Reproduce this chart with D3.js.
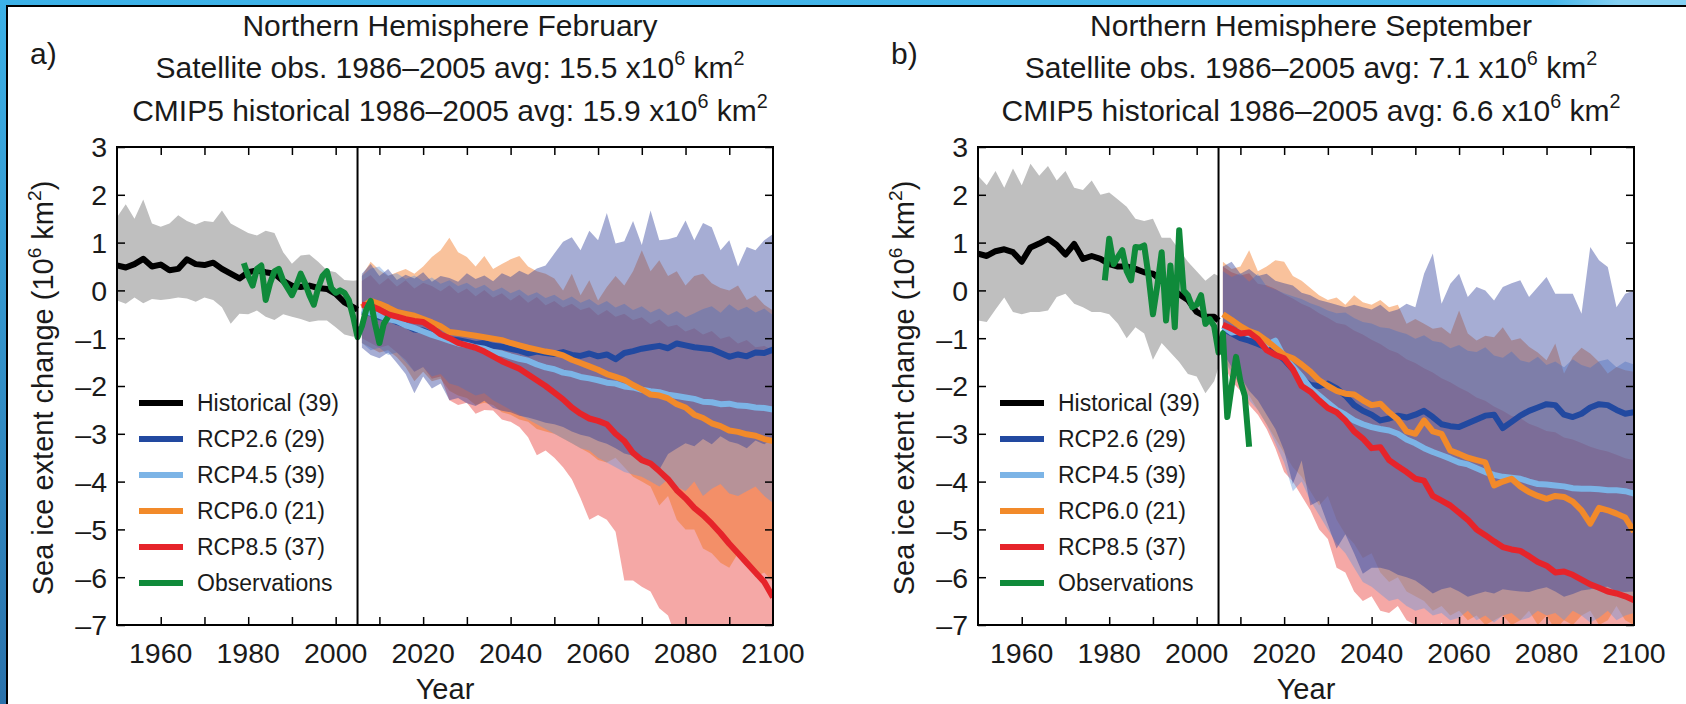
<!DOCTYPE html>
<html>
<head>
<meta charset="utf-8">
<script src="https://cdn.jsdelivr.net/npm/d3@7"></script>
<style>
  html, body { margin: 0; padding: 0; background: #fff; }
  svg { display: block; font-family: "Liberation Sans", Arial, Helvetica, sans-serif; }
</style>
</head>
<body>
<div id="chart"></div>
<script>
// =======================
// DATA
// =======================
const histYears = d3.range(1950, 2005, 2).concat([2005]);
const rcpYears  = d3.range(2006, 2101, 2);
const obsYears  = d3.range(1979, 2013);

const legendLabels = ["Historical (39)", "RCP2.6 (29)", "RCP4.5 (39)", "RCP6.0 (21)", "RCP8.5 (37)", "Observations"];
const yTicks = d3.range(-7, 4);
const xTicksMinor = d3.range(1960, 2100, 10);
const xTickLabels = [1960, 1980, 2000, 2020, 2040, 2060, 2080, 2100];

// ---- a) February ----
const febHistMean = [0.52,0.48,0.55,0.66,0.50,0.54,0.42,0.45,0.65,0.55,0.53,0.58,0.45,0.35,0.25,0.38,0.42,0.38,0.35,0.20,0.10,0.07,0.10,0.05,0.03,-0.07,-0.25,-0.35,-0.40];
const febHistHi   = [1.53,1.80,1.50,1.90,1.40,1.33,1.40,1.57,1.45,1.38,1.45,1.43,1.67,1.40,1.30,1.20,1.15,1.25,1.20,0.80,0.56,0.73,0.75,0.60,0.42,0.38,0.22,0.20,0.21];
const febHistLo   = [-0.21,-0.28,-0.15,-0.27,-0.18,-0.20,-0.18,-0.15,-0.17,-0.24,-0.15,-0.20,-0.35,-0.70,-0.49,-0.50,-0.42,-0.55,-0.62,-0.50,-0.55,-0.60,-0.66,-0.63,-0.63,-0.77,-0.92,-0.97,-0.94];
const febObs = [0.57,0.30,0.10,0.45,0.52,-0.20,0.15,0.40,0.45,0.20,0.05,-0.10,0.10,0.35,0.15,-0.10,-0.30,0.05,0.30,0.40,0.05,-0.05,0.00,-0.05,-0.20,-0.55,-0.98,-0.75,-0.40,-0.22,-0.70,-1.10,-0.70,-0.55];

const febRcp26 = [-0.45,-0.48,-0.56,-0.58,-0.66,-0.72,-0.82,-0.84,-0.92,-0.95,
  -1.02,-1.04,-1.08,-1.12,-1.10,-1.16,-1.18,-1.22,-1.26,-1.32,
  -1.28,-1.31,-1.33,-1.29,-1.35,-1.37,-1.32,-1.38,-1.34,-1.44,
  -1.31,-1.27,-1.22,-1.19,-1.16,-1.21,-1.11,-1.15,-1.19,-1.21,
  -1.23,-1.31,-1.39,-1.34,-1.38,-1.30,-1.31,-1.24];
const febRcp45 = [-0.42,-0.47,-0.53,-0.60,-0.64,-0.73,-0.79,-0.86,-0.93,-0.99,
  -1.05,-1.11,-1.14,-1.19,-1.22,-1.29,-1.32,-1.38,-1.43,-1.47,
  -1.55,-1.61,-1.65,-1.72,-1.75,-1.81,-1.84,-1.88,-1.93,-1.95,
  -2.01,-2.03,-2.08,-2.11,-2.13,-2.18,-2.21,-2.24,-2.27,-2.33,
  -2.34,-2.38,-2.37,-2.41,-2.42,-2.45,-2.46,-2.49];
const febRcp60 = [-0.35,-0.22,-0.28,-0.36,-0.45,-0.49,-0.53,-0.60,-0.67,-0.75,
  -0.87,-0.89,-0.92,-0.95,-0.98,-1.01,-1.04,-1.10,-1.15,-1.20,
  -1.24,-1.28,-1.31,-1.36,-1.45,-1.52,-1.59,-1.66,-1.75,-1.81,
  -1.87,-1.98,-2.07,-2.18,-2.20,-2.26,-2.38,-2.45,-2.60,-2.67,
  -2.78,-2.84,-2.93,-2.96,-3.01,-3.04,-3.11,-3.15];
const febRcp85 = [-0.30,-0.32,-0.40,-0.50,-0.55,-0.60,-0.64,-0.66,-0.78,-0.92,
  -1.00,-1.10,-1.15,-1.20,-1.28,-1.38,-1.48,-1.56,-1.64,-1.76,
  -1.88,-2.00,-2.14,-2.28,-2.45,-2.58,-2.68,-2.73,-2.80,-3.00,
  -3.15,-3.40,-3.55,-3.62,-3.78,-3.95,-4.18,-4.35,-4.55,-4.70,
  -4.88,-5.08,-5.30,-5.50,-5.70,-5.90,-6.10,-6.42];

const febRcp26Hi = [0.35,0.55,0.30,0.45,0.22,0.33,0.25,0.38,0.18,0.30,
  0.26,0.18,0.36,0.24,0.31,0.19,0.36,0.28,0.41,0.33,
  0.46,0.52,0.77,1.02,1.11,0.84,1.25,1.05,1.62,0.98,
  1.03,1.45,0.95,1.67,1.05,1.07,1.12,1.46,1.05,1.41,
  1.32,0.84,1.05,0.50,0.91,0.84,1.05,1.18];
const febRcp26Lo = [-1.20,-1.35,-1.42,-1.30,-1.52,-1.75,-2.15,-1.80,-2.05,-1.95,
  -2.30,-2.25,-2.36,-2.42,-2.31,-2.46,-2.52,-2.55,-2.62,-2.66,
  -2.71,-2.77,-2.80,-2.86,-2.95,-3.02,-3.06,-3.15,-3.21,-3.30,
  -3.41,-3.46,-3.55,-3.61,-3.75,-3.42,-3.31,-3.20,-3.26,-3.11,
  -3.22,-3.05,-3.16,-3.21,-3.30,-3.14,-3.22,-3.10];
const febRcp45Hi = [0.30,0.46,0.50,0.31,0.36,0.24,0.31,0.19,0.27,0.14,
  0.21,0.09,0.16,0.04,0.12,-0.02,0.06,-0.06,0.02,-0.11,
  -0.04,-0.16,-0.09,-0.21,-0.13,-0.26,-0.18,-0.31,-0.22,-0.36,
  -0.28,-0.41,-0.33,-0.46,-0.38,-0.52,-0.43,-0.56,-0.48,-0.39,
  -0.33,-0.47,-0.29,-0.42,-0.34,-0.46,-0.38,-0.52];
const febRcp45Lo = [-1.10,-1.25,-1.20,-1.35,-1.30,-1.50,-1.70,-1.60,-1.80,-1.75,
  -1.95,-2.00,-2.10,-2.20,-2.15,-2.30,-2.40,-2.50,-2.60,-2.70,
  -2.80,-2.90,-3.00,-3.10,-3.20,-3.30,-3.35,-3.50,-3.60,-3.70,
  -3.80,-3.85,-3.90,-4.00,-4.10,-3.95,-4.10,-4.20,-4.00,-4.30,
  -4.15,-4.05,-4.25,-4.30,-4.20,-4.10,-4.30,-4.45];
const febRcp60Hi = [0.30,0.60,0.42,0.30,0.38,0.45,0.35,0.50,0.70,0.84,
  1.10,0.80,0.70,0.50,0.72,0.45,0.55,0.65,0.72,0.50,
  0.40,0.35,0.25,0.00,0.35,-0.10,0.21,-0.21,0.07,0.30,
  0.10,0.40,0.84,0.40,0.63,0.30,0.40,0.10,0.30,0.35,
  0.15,0.05,0.00,0.10,-0.20,-0.10,-0.30,-0.42];
const febRcp60Lo = [-1.10,-1.20,-1.30,-1.25,-1.40,-1.60,-1.90,-1.70,-1.90,-1.85,
  -2.10,-2.20,-2.25,-2.40,-2.35,-2.40,-2.55,-2.60,-2.70,-2.75,
  -2.90,-2.95,-3.00,-3.10,-3.20,-3.30,-3.40,-3.55,-3.60,-3.50,
  -3.70,-3.90,-4.00,-4.10,-4.50,-4.30,-4.80,-5.00,-5.00,-5.40,
  -5.50,-5.70,-5.80,-5.50,-5.70,-6.00,-5.90,-6.10];
const febRcp85Hi = [0.20,0.32,0.12,0.26,0.08,0.21,0.04,0.16,0.09,-0.02,
  0.11,-0.06,0.04,-0.12,0.01,-0.15,-0.06,-0.21,-0.09,-0.26,
  -0.14,-0.31,-0.22,-0.36,-0.28,-0.41,-0.35,-0.52,-0.41,-0.55,
  -0.49,-0.62,-0.56,-0.71,-0.61,-0.76,-0.72,-0.86,-0.79,-0.92,
  -0.85,-1.01,-0.96,-1.11,-1.04,-1.19,-1.16,-1.26];
const febRcp85Lo = [-1.00,-1.10,-1.20,-1.15,-1.30,-1.45,-1.70,-1.60,-1.85,-1.80,
  -2.30,-2.40,-2.35,-2.58,-2.50,-2.51,-2.70,-2.75,-2.86,-3.07,
  -3.45,-3.35,-3.50,-3.70,-3.95,-4.35,-4.80,-4.70,-4.80,-5.05,
  -6.07,-6.07,-6.20,-6.30,-6.65,-6.80,-7.30,-7.50,-7.60,-7.70,
  -7.80,-7.90,-8.00,-8.10,-8.20,-8.30,-8.40,-8.50];

// ---- b) September ----
const sepHistMean = [0.77,0.72,0.82,0.86,0.80,0.60,0.90,0.98,1.08,0.95,0.75,0.97,0.66,0.72,0.66,0.55,0.50,0.50,0.45,0.38,0.35,0.20,0.05,-0.08,-0.20,-0.45,-0.55,-0.55,-0.63];
const sepHistHi   = [2.40,2.20,2.50,2.15,2.55,2.20,2.65,2.40,2.60,2.30,2.50,2.15,2.10,2.30,2.00,2.05,1.90,1.75,1.50,1.45,1.50,1.10,1.10,0.85,0.60,0.40,0.20,0.35,0.30];
const sepHistLo   = [-0.63,-0.66,-0.40,-0.15,-0.45,-0.50,-0.45,-0.45,-0.42,-0.14,-0.07,-0.28,-0.35,-0.45,-0.45,-0.50,-0.70,-1.00,-0.77,-0.90,-1.45,-1.10,-1.30,-1.50,-1.75,-1.80,-2.15,-1.90,-1.60];
const sepObs = [0.21,1.08,0.55,0.70,0.84,0.40,0.21,0.91,0.90,0.94,0.30,-0.50,0.10,0.80,-0.63,0.52,-0.77,1.26,0.00,-0.10,-0.35,-0.30,-0.10,-0.70,-0.60,-0.75,-1.30,-0.90,-2.65,-2.00,-1.39,-1.90,-2.20,-3.27];

const sepRcp26 = [-0.80,-0.90,-1.00,-1.05,-1.12,-1.20,-1.30,-1.45,-1.65,-1.85,
  -1.98,-2.00,-1.95,-2.05,-2.20,-2.40,-2.52,-2.60,-2.72,-2.68,
  -2.62,-2.66,-2.60,-2.52,-2.65,-2.80,-2.84,-2.86,-2.78,-2.70,
  -2.62,-2.60,-2.88,-2.75,-2.62,-2.52,-2.45,-2.38,-2.40,-2.60,
  -2.65,-2.58,-2.45,-2.38,-2.40,-2.50,-2.58,-2.55];
const sepRcp45 = [-0.75,-0.88,-0.85,-0.92,-0.95,-1.15,-1.05,-1.40,-1.60,-1.80,
  -2.05,-2.20,-2.35,-2.50,-2.60,-2.72,-2.80,-2.86,-2.90,-2.93,
  -3.00,-3.12,-3.20,-3.30,-3.38,-3.45,-3.52,-3.60,-3.64,-3.72,
  -3.80,-3.86,-3.90,-3.92,-3.94,-4.00,-4.05,-4.06,-4.08,-4.10,
  -4.14,-4.15,-4.15,-4.16,-4.18,-4.18,-4.20,-4.25];
const sepRcp60 = [-0.50,-0.62,-0.75,-0.85,-0.92,-1.05,-1.20,-1.35,-1.42,-1.55,
  -1.70,-1.88,-2.00,-2.10,-2.16,-2.18,-2.30,-2.40,-2.37,-2.55,
  -2.70,-2.95,-3.00,-2.72,-2.95,-3.00,-3.35,-3.42,-3.50,-3.55,
  -3.60,-4.08,-4.00,-3.94,-4.10,-4.22,-4.30,-4.36,-4.30,-4.32,
  -4.42,-4.60,-4.88,-4.55,-4.60,-4.67,-4.75,-5.05];
const sepRcp85 = [-0.72,-0.80,-0.90,-0.88,-1.02,-1.25,-1.35,-1.42,-1.65,-2.00,
  -2.12,-2.30,-2.46,-2.55,-2.72,-2.95,-3.10,-3.30,-3.28,-3.55,
  -3.68,-3.80,-3.94,-3.98,-4.30,-4.40,-4.50,-4.65,-4.80,-5.00,
  -5.12,-5.25,-5.37,-5.42,-5.45,-5.56,-5.68,-5.76,-5.90,-5.88,
  -5.95,-6.05,-6.15,-6.22,-6.30,-6.34,-6.40,-6.48];

const sepRcp26Hi = [0.50,0.60,0.35,0.45,0.30,0.35,0.20,0.15,0.10,-0.05,
  -0.10,-0.20,-0.25,-0.30,-0.35,-0.30,-0.35,-0.40,-0.30,-0.45,
  -0.40,-0.28,-0.35,0.35,0.77,-0.28,0.14,0.35,-0.14,0.07,
  0.00,-0.21,0.07,0.15,0.21,-0.14,0.07,0.28,-0.07,-0.07,
  -0.07,-0.49,0.91,0.63,0.49,-0.35,-0.07,0.00];
const sepRcp26Lo = [-1.30,-1.60,-1.80,-2.10,-2.30,-2.60,-2.90,-3.35,-4.05,-3.56,
  -4.50,-4.40,-4.90,-5.40,-5.10,-5.50,-5.93,-5.80,-5.80,-5.85,
  -5.95,-6.00,-6.07,-6.20,-6.34,-6.25,-6.21,-6.30,-6.41,-6.35,
  -6.30,-6.34,-6.25,-6.28,-6.30,-6.31,-6.25,-6.21,-6.30,-6.41,
  -6.35,-6.28,-6.25,-6.21,-6.20,-6.30,-6.31,-6.30];
const sepRcp45Hi = [0.40,0.28,0.36,0.18,0.35,0.08,0.02,-0.06,-0.12,-0.18,
  -0.27,-0.33,-0.42,-0.48,-0.46,-0.58,-0.66,-0.69,-0.77,-0.79,
  -0.86,-0.91,-1.01,-0.94,-1.06,-1.09,-1.21,-1.14,-1.26,-1.29,
  -1.19,-1.36,-1.41,-1.28,-1.46,-1.51,-1.39,-1.56,-1.49,-1.61,
  -1.44,-1.56,-1.62,-1.48,-1.44,-1.61,-1.49,-1.55];
const sepRcp45Lo = [-1.40,-1.75,-1.95,-2.30,-2.50,-2.80,-3.20,-3.60,-4.20,-4.00,
  -4.40,-4.70,-5.00,-5.30,-5.50,-5.80,-6.10,-6.20,-6.35,-6.50,
  -6.45,-6.60,-6.70,-6.65,-6.80,-6.75,-6.90,-6.85,-6.70,-6.90,
  -6.80,-6.95,-6.80,-6.75,-6.90,-6.85,-6.70,-6.80,-6.75,-6.90,
  -6.70,-6.80,-6.95,-6.85,-6.70,-6.90,-6.80,-6.75];
const sepRcp60Hi = [0.60,0.45,0.50,0.84,0.40,0.50,0.63,0.60,0.30,0.20,
  0.05,-0.10,-0.20,-0.15,-0.30,-0.10,-0.25,-0.30,-0.20,-0.35,
  -0.30,-0.70,-0.60,-0.70,-0.80,-0.77,-0.91,-0.42,-0.90,-1.05,
  -0.95,-0.98,-0.77,-1.05,-1.00,-1.18,-1.30,-1.46,-1.11,-1.74,
  -1.39,-1.20,-1.32,-1.50,-1.74,-1.60,-1.67,-1.70];
const sepRcp60Lo = [-1.40,-1.70,-2.00,-2.20,-2.50,-2.80,-3.10,-3.40,-3.70,-3.90,
  -4.20,-4.50,-4.30,-4.80,-5.10,-5.30,-5.60,-5.50,-5.90,-6.10,
  -6.00,-6.30,-6.40,-6.50,-6.70,-6.60,-6.80,-6.70,-6.90,-6.80,
  -7.00,-6.90,-6.80,-7.00,-6.90,-6.70,-7.00,-6.80,-7.10,-6.90,
  -7.00,-6.80,-6.70,-7.00,-6.90,-6.60,-6.90,-7.00];
const sepRcp85Hi = [0.50,0.38,0.31,0.36,0.14,0.11,0.03,-0.08,-0.17,-0.28,
  -0.36,-0.48,-0.57,-0.68,-0.72,-0.84,-0.92,-1.03,-1.12,-1.24,
  -1.31,-1.44,-1.52,-1.63,-1.72,-1.84,-1.92,-2.03,-2.12,-2.24,
  -2.31,-2.43,-2.52,-2.63,-2.67,-2.79,-2.86,-2.94,-2.97,-3.08,
  -3.12,-3.19,-3.27,-3.33,-3.37,-3.44,-3.51,-3.55];
const sepRcp85Lo = [-1.50,-1.90,-2.10,-2.40,-2.60,-2.90,-3.30,-3.80,-4.00,-4.30,
  -4.60,-5.00,-5.20,-5.80,-5.90,-6.30,-6.50,-6.40,-6.70,-6.75,
  -6.60,-6.90,-7.00,-7.10,-7.20,-6.95,-7.20,-7.10,-7.30,-7.00,
  -7.20,-7.30,-7.10,-7.20,-7.30,-7.00,-7.20,-7.40,-7.10,-7.20,
  -7.30,-7.10,-7.20,-7.40,-7.00,-7.20,-7.30,-7.20];

// =======================
// STYLE
// =======================
const lineColors = { hist: "#000000", rcp26: "#2249a0", rcp45: "#7cb4e6", rcp60: "#f28a2a", rcp85: "#e6242a", obs: "#0f8a3a" };
const bandColors = { rcp85: "#e8302a", rcp60: "#f06e14", rcp45: "#6496dc", rcp26: "#2c3c98" };
const bandOpacity = 0.42;
const legendColors = [lineColors.hist, lineColors.rcp26, lineColors.rcp45, lineColors.rcp60, lineColors.rcp85, lineColors.obs];

const width = 1686, height = 704;
const plotW = 656, plotTop = 147, plotBottom = 625;
const titleSize = 30, tickSize = 28.5;

const svg = d3.select("#chart").append("svg")
  .attr("width", width)
  .attr("height", height);

const defs = svg.append("defs");

// frame (blue strips + thin black rule)
const gLeft = defs.append("linearGradient").attr("id", "blueLeft").attr("x1", 0).attr("y1", 0).attr("x2", 0).attr("y2", 1);
gLeft.append("stop").attr("offset", "0%").attr("stop-color", "#3cb1e7");
gLeft.append("stop").attr("offset", "100%").attr("stop-color", "#2a72ab");
const gTop = defs.append("linearGradient").attr("id", "blueTop").attr("x1", 0).attr("y1", 0).attr("x2", 1).attr("y2", 0);
gTop.append("stop").attr("offset", "0%").attr("stop-color", "#3cb1e7");
gTop.append("stop").attr("offset", "92%").attr("stop-color", "#48b7ea");
gTop.append("stop").attr("offset", "96%").attr("stop-color", "#84d0f2");
gTop.append("stop").attr("offset", "100%").attr("stop-color", "#84d0f2");

svg.append("rect").attr("x", 0).attr("y", 0).attr("width", width).attr("height", 5).attr("fill", "url(#blueTop)");
svg.append("rect").attr("x", 0).attr("y", 0).attr("width", 6).attr("height", height).attr("fill", "url(#blueLeft)");
svg.append("rect").attr("x", 6).attr("y", 5).attr("width", width - 6).attr("height", 2).attr("fill", "#000");
svg.append("rect").attr("x", 6).attr("y", 5).attr("width", 2).attr("height", height - 5).attr("fill", "#000");

// text with superscripts: parts = [[text, isSup], ...]
function richText(sel, parts, size) {
  parts.forEach(([t, sup], i) => {
    const prevSup = i > 0 && parts[i - 1][1];
    const ts = sel.append("tspan").text(t);
    if (sup) ts.attr("font-size", size * 0.66).attr("dy", -size * 0.42);
    else if (prevSup) ts.attr("dy", size * 0.42);
  });
}

const fmtTick = d => d < 0 ? "\u2013" + Math.abs(d) : String(d);

const panels = [
  { left: 117, label: "a)", title: "Northern Hemisphere February", sat: "15.5", cmip: "15.9",
    histMean: febHistMean, histHi: febHistHi, histLo: febHistLo, obs: febObs,
    rcp: {
      rcp26: [febRcp26, febRcp26Lo, febRcp26Hi], rcp45: [febRcp45, febRcp45Lo, febRcp45Hi],
      rcp60: [febRcp60, febRcp60Lo, febRcp60Hi], rcp85: [febRcp85, febRcp85Lo, febRcp85Hi] } },
  { left: 978, label: "b)", title: "Northern Hemisphere September", sat: "7.1", cmip: "6.6",
    histMean: sepHistMean, histHi: sepHistHi, histLo: sepHistLo, obs: sepObs,
    rcp: {
      rcp26: [sepRcp26, sepRcp26Lo, sepRcp26Hi], rcp45: [sepRcp45, sepRcp45Lo, sepRcp45Hi],
      rcp60: [sepRcp60, sepRcp60Lo, sepRcp60Hi], rcp85: [sepRcp85, sepRcp85Lo, sepRcp85Hi] } }
];

// =======================
// PANELS
// =======================
panels.forEach((p, pi) => {
  const x = d3.scaleLinear().domain([1950, 2100]).range([p.left, p.left + plotW]);
  const y = d3.scaleLinear().domain([-7, 3]).range([plotBottom, plotTop]);
  const cx = p.left + plotW / 2;

  const g = svg.append("g");

  // titles
  g.append("text").attr("x", cx + 5).attr("y", 36).attr("text-anchor", "middle")
    .attr("font-size", titleSize).attr("fill", "#1a1a1a").text(p.title);
  richText(g.append("text").attr("x", cx + 5).attr("y", 78).attr("text-anchor", "middle")
      .attr("font-size", titleSize).attr("fill", "#1a1a1a"),
    [["Satellite obs. 1986\u20132005 avg: " + p.sat + " x10", 0], ["6", 1], [" km", 0], ["2", 1]], titleSize);
  richText(g.append("text").attr("x", cx + 5).attr("y", 121).attr("text-anchor", "middle")
      .attr("font-size", titleSize).attr("fill", "#1a1a1a"),
    [["CMIP5 historical 1986\u20132005 avg: " + p.cmip + " x10", 0], ["6", 1], [" km", 0], ["2", 1]], titleSize);
  g.append("text").attr("x", p.left - 87).attr("y", 64)
    .attr("font-size", 30).attr("fill", "#1a1a1a").text(p.label);

  // clip
  const clipId = "clip" + pi;
  defs.append("clipPath").attr("id", clipId).append("rect")
    .attr("x", p.left).attr("y", plotTop).attr("width", plotW).attr("height", plotBottom - plotTop);
  const plot = g.append("g").attr("clip-path", `url(#${clipId})`);

  const area = d3.area().x(d => x(d.yr)).y0(d => y(d.lo)).y1(d => y(d.hi));
  const line = d3.line().x(d => x(d.yr)).y(d => y(d.v));

  // historical spread
  plot.append("path")
    .datum(histYears.map((yr, i) => ({ yr, lo: p.histLo[i], hi: p.histHi[i] })))
    .attr("d", area).attr("fill", "#bfbfbf");

  // scenario spreads
  ["rcp85", "rcp60", "rcp45", "rcp26"].forEach(k => {
    const [, lo, hi] = p.rcp[k];
    plot.append("path")
      .datum(rcpYears.map((yr, i) => ({ yr, lo: lo[i], hi: hi[i] })))
      .attr("d", area)
      .attr("fill", bandColors[k])
      .attr("fill-opacity", bandOpacity);
  });

  // 2005 divider
  g.append("line")
    .attr("x1", x(2005)).attr("x2", x(2005))
    .attr("y1", plotTop).attr("y2", plotBottom)
    .attr("stroke", "#000").attr("stroke-width", 2);

  // multi-model means
  ["rcp26", "rcp45", "rcp60", "rcp85"].forEach(k => {
    const [mean] = p.rcp[k];
    plot.append("path")
      .datum(rcpYears.map((yr, i) => ({ yr, v: mean[i] })))
      .attr("d", line)
      .attr("fill", "none").attr("stroke", lineColors[k])
      .attr("stroke-width", 6).attr("stroke-linejoin", "round");
  });

  plot.append("path")
    .datum(histYears.map((yr, i) => ({ yr, v: p.histMean[i] })))
    .attr("d", line)
    .attr("fill", "none").attr("stroke", lineColors.hist)
    .attr("stroke-width", 6).attr("stroke-linejoin", "round");

  plot.append("path")
    .datum(obsYears.map((yr, i) => ({ yr, v: p.obs[i] })))
    .attr("d", line)
    .attr("fill", "none").attr("stroke", lineColors.obs)
    .attr("stroke-width", 6).attr("stroke-linejoin", "round");

  // axes (ticks pointing inward)
  const axB = g.append("g").attr("transform", `translate(0,${plotBottom})`)
    .call(d3.axisBottom(x).tickValues(xTicksMinor).tickSize(-8).tickFormat(""));
  const axT = g.append("g").attr("transform", `translate(0,${plotTop})`)
    .call(d3.axisTop(x).tickValues(xTicksMinor).tickSize(-8).tickFormat(""));
  const axL = g.append("g").attr("transform", `translate(${p.left},0)`)
    .call(d3.axisLeft(y).tickValues(yTicks).tickSize(-8).tickPadding(10).tickFormat(fmtTick));
  const axR = g.append("g").attr("transform", `translate(${p.left + plotW},0)`)
    .call(d3.axisRight(y).tickValues(yTicks).tickSize(-8).tickFormat(""));

  [axB, axT, axL, axR].forEach(a => {
    a.select(".domain").remove();
    a.selectAll(".tick line").attr("stroke", "#000").attr("stroke-width", 1.5);
  });
  axL.selectAll(".tick text")
    .attr("font-size", tickSize).attr("font-family", null).attr("fill", "#1a1a1a").attr("dy", "0.35em");

  g.append("g").selectAll("text")
    .data(xTickLabels)
    .enter().append("text")
    .attr("x", d => x(d)).attr("y", 663)
    .attr("text-anchor", "middle").attr("font-size", tickSize).attr("fill", "#1a1a1a")
    .text(d => d);

  g.append("rect")
    .attr("x", p.left).attr("y", plotTop).attr("width", plotW).attr("height", plotBottom - plotTop)
    .attr("fill", "none").attr("stroke", "#000").attr("stroke-width", 2);

  // axis titles
  g.append("text").attr("x", cx).attr("y", 699).attr("text-anchor", "middle")
    .attr("font-size", 29).attr("fill", "#1a1a1a").text("Year");
  richText(g.append("text")
      .attr("transform", `translate(${p.left - 64},${(plotTop + plotBottom) / 2 + 2}) rotate(-90)`)
      .attr("text-anchor", "middle").attr("font-size", 29).attr("fill", "#1a1a1a"),
    [["Sea ice extent change (10", 0], ["6", 1], [" km", 0], ["2", 1], [")", 0]], 29);

  // legend
  const leg = g.append("g").selectAll("g")
    .data(legendLabels)
    .enter().append("g")
    .attr("transform", (d, i) => `translate(${p.left + 22},${403 + i * 36})`);
  leg.append("line").attr("x1", 0).attr("x2", 44).attr("y1", 0).attr("y2", 0)
    .attr("stroke", (d, i) => legendColors[i]).attr("stroke-width", 6);
  leg.append("text").attr("x", 58).attr("y", 0).attr("dy", "0.36em")
    .attr("font-size", 23).attr("fill", "#1a1a1a").text(d => d);
});
</script>
</body>
</html>
